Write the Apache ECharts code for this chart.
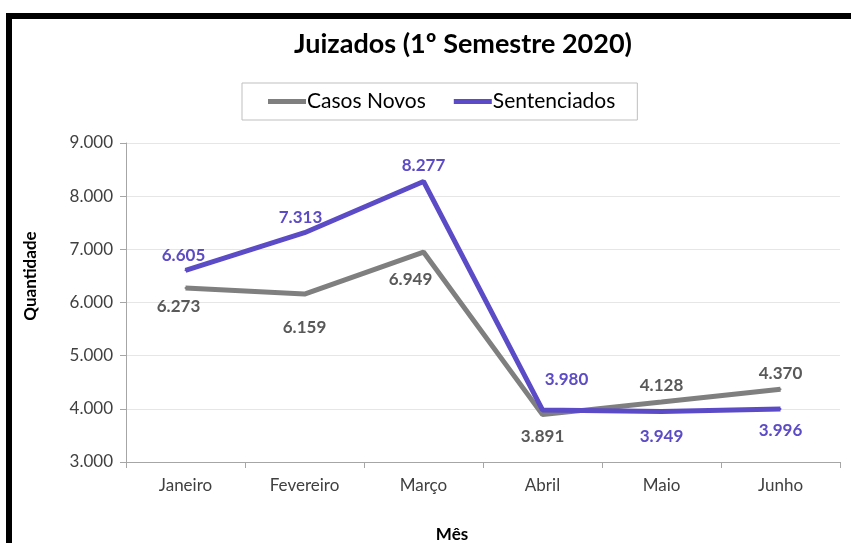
<!DOCTYPE html>
<html><head><meta charset="utf-8">
<script src="https://cdn.jsdelivr.net/npm/echarts@6/dist/echarts.min.js"></script>
<style>html,body{margin:0;padding:0;background:#fff}#c{width:851px;height:543px}</style>
</head><body><div id="c"></div>
<script>
const categories = ['Janeiro','Fevereiro','Março','Abril','Maio','Junho'];
const casosNovos = [6273, 6159, 6949, 3891, 4128, 4370];
const sentenciados = [6605, 7313, 8277, 3980, 3949, 3996];
const yTicks = [3000, 4000, 5000, 6000, 7000, 8000, 9000];

const FONT = 'Lato, "Open Sans", sans-serif';
const fmt = v => v.toLocaleString('de-DE');

const grayOff = [[-7,19],[0,33],[-13,27],[0,22],[0,-17],[0,-16]];
const purpleOff = [[-2,-15],[-4,-15],[0,-16],[24,-30],[0,25],[0,21]];

function mk(vals, offs){
  return vals.map((v,i)=>({value:v, label:{offset:offs[i]}}));
}

const chart = echarts.init(document.getElementById('c'), null, {renderer:'canvas'});
chart.setOption({
  animation:false,
  backgroundColor:'#fff',
  textStyle:{fontFamily:FONT},
  title:{text:'Juizados (1º Semestre 2020)', left:458, top:26, textAlign:'center',
    textStyle:{fontFamily:FONT, fontSize:27, fontWeight:'bold', color:'#000'}},
  legend:{left:242, top:83, width:392, height:39, padding:[8,22,8,26],
    borderColor:'#bfbfbf', borderWidth:1, itemGap:28, itemWidth:38, itemHeight:5,
    icon:'rect',
    textStyle:{fontFamily:FONT, fontSize:21, color:'#000', padding:[0,0,0,-4]},
    data:['Casos Novos','Sentenciados']},
  grid:{left:126, top:143, right:11, bottom:81},
  xAxis:{type:'category', data:categories, boundaryGap:true,
    axisLine:{lineStyle:{color:'#a6a6a6', width:1}},
    axisTick:{show:true, length:6, lineStyle:{color:'#a6a6a6'}},
    axisLabel:{fontFamily:FONT, fontSize:17, color:'#404040', margin:15}},
  yAxis:{type:'value', min:yTicks[0], max:yTicks[yTicks.length-1], interval:1000,
    axisLine:{show:true, lineStyle:{color:'#a6a6a6'}},
    axisTick:{show:true, inside:false, length:6, lineStyle:{color:'#a6a6a6'}},
    axisLabel:{fontFamily:FONT, fontSize:17, color:'#404040', margin:13, formatter:v=>fmt(v)},
    splitLine:{lineStyle:{color:'#e6e6e6'}}},
  series:[
    {name:'Casos Novos', type:'line', data:mk(casosNovos, grayOff), symbol:'circle', symbolSize:2, showSymbol:true,
      lineStyle:{color:'#7f7f7f', width:5}, itemStyle:{color:'#7f7f7f'},
      label:{show:true, position:'inside', fontFamily:FONT, fontSize:17, fontWeight:'bold', color:'#595959', formatter:p=>fmt(p.value)}},
    {name:'Sentenciados', type:'line', data:mk(sentenciados, purpleOff), symbol:'circle', symbolSize:2, showSymbol:true,
      lineStyle:{color:'#5b4bc6', width:5}, itemStyle:{color:'#5b4bc6'},
      label:{show:true, position:'inside', fontFamily:FONT, fontSize:17, fontWeight:'bold', color:'#5b4bc6', formatter:p=>fmt(p.value)}}
  ],
  graphic:[
    {type:'rect', shape:{x:6, y:13, width:845, height:6}, style:{fill:'#000'}},
    {type:'rect', shape:{x:6, y:13, width:6, height:530}, style:{fill:'#000'}},
    {type:'text', x:31, y:276, rotation:Math.PI/2,
      style:{text:'Quantidade', fontFamily:FONT, fontSize:17, fontWeight:'bold', fill:'#000', align:'center', verticalAlign:'middle'}},
    {type:'text', x:452, y:535,
      style:{text:'Mês', fontFamily:FONT, fontSize:17, fontWeight:'bold', fill:'#000', align:'center', verticalAlign:'middle'}}
  ]
});
</script></body></html>
